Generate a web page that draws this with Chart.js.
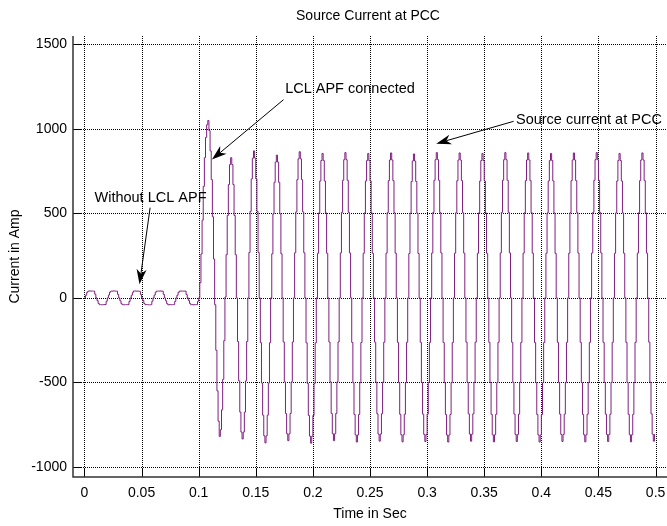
<!DOCTYPE html>
<html>
<head>
<meta charset="utf-8">
<title>Source Current at PCC</title>
<script src="https://cdn.jsdelivr.net/npm/chart.js@4.4.1/dist/chart.umd.min.js"></script>
<style>
  html, body { margin: 0; padding: 0; background: #fff; }
  #wrap { width: 667px; height: 526px; }
</style>
</head>
<body>
<div id="wrap"><canvas id="chart" width="667" height="526"></canvas></div>
<script>
const sampleStep = 0.001
const connectTime = 0.1

// 0 .. 0.099 s, without the LCL APF (one row = one 20 ms cycle)
const currentBefore = [
  0, 16, 33, 40, 41, 41, 40, 40, 40, 22, 0, -16, -33, -40, -40, -41, -40, -40, -39, -20,
  0, 17, 34, 40, 40, 41, 41, 40, 40, 21, 0, -17, -34, -40, -41, -40, -40, -40, -40, -21,
  0, 16, 33, 41, 41, 40, 40, 40, 39, 20, 0, -16, -33, -40, -40, -40, -41, -41, -40, -20,
  0, 17, 34, 40, 40, 40, 41, 40, 40, 21, 0, -17, -34, -41, -40, -40, -40, -40, -39, -21,
  0, 16, 33, 40, 41, 40, 40, 40, 40, 20, 0, -16, -33, -40, -40, -41, -40, -40, -40, -20,
]

// 0.1 .. 0.499 s, after the LCL APF is connected
const currentAfter = [
  0, 90, 260, 460, 660, 830, 950, 1025, 1050, 990, 870, 700, 480, 230, -40, -310, -550, -730, -820, -780,
  -663, -482, -253, 5, 256, 488, 671, 789, 830, 789, 671, 488, 256, 0, -258, -491, -676, -794, -835, -794,
  -676, -491, -258, 0, 269, 512, 704, 827, 870, 827, 704, 512, 269, 0, -265, -504, -694, -816, -858, -816,
  -694, -504, -265, 0, 261, 497, 684, 804, 845, 804, 684, 497, 261, 0, -261, -497, -684, -804, -845, -804,
  -684, -497, -261, 0, 267, 509, 700, 823, 865, 823, 700, 509, 267, 0, -266, -506, -696, -818, -860, -818,
  -696, -506, -266, 0, 264, 503, 692, 813, 855, 813, 692, 503, 264, 0, -261, -497, -684, -804, -845, -804,
  -684, -497, -261, 0, 266, 506, 696, 818, 860, 818, 696, 506, 266, 0, -264, -502, -690, -811, -853, -811,
  -690, -502, -264, 0, 264, 503, 692, 813, 855, 813, 692, 503, 264, 0, -262, -499, -686, -806, -848, -806,
  -686, -499, -262, 0, 265, 504, 694, 816, 858, 816, 694, 504, 265, 0, -263, -501, -689, -810, -852, -810,
  -689, -501, -263, 0, 263, 501, 689, 810, 852, 810, 689, 501, 263, 0, -263, -500, -688, -808, -850, -808,
  -688, -500, -263, 0, 266, 506, 696, 818, 860, 818, 696, 506, 266, 0, -264, -502, -690, -811, -853, -811,
  -690, -502, -264, 0, 265, 504, 694, 816, 858, 816, 694, 504, 265, 0, -262, -499, -686, -806, -848, -806,
  -686, -499, -262, 0, 264, 503, 692, 813, 855, 813, 692, 503, 264, 0, -263, -501, -689, -810, -852, -810,
  -689, -501, -263, 0, 266, 506, 696, 818, 860, 818, 696, 506, 266, 0, -263, -500, -688, -808, -850, -808,
  -688, -500, -263, 0, 265, 504, 694, 816, 858, 816, 694, 504, 265, 0, -264, -502, -690, -811, -853, -811,
  -690, -502, -264, 0, 264, 503, 692, 813, 855, 813, 692, 503, 264, 0, -263, -500, -688, -808, -850, -808,
  -688, -500, -263, 0, 265, 504, 694, 816, 858, 816, 694, 504, 265, 0, -263, -501, -689, -810, -852, -810,
  -689, -501, -263, 0, 266, 506, 696, 818, 860, 818, 696, 506, 266, 0, -263, -500, -688, -808, -850, -808,
  -688, -500, -263, 0, 264, 503, 692, 813, 855, 813, 692, 503, 264, 0, -263, -501, -689, -810, -852, -810,
  -689, -501, -263, 0, 265, 504, 694, 816, 858, 816, 694, 504, 265, 0, -262, -499, -686, -806, -848, -806,
]

// Axis ticks
const xTickValues = [0, 0.05, 0.1, 0.15, 0.2, 0.25, 0.3, 0.35, 0.4, 0.45, 0.5]
const xTickLabels = ["0", "0.05", "0.1", "0.15", "0.2", "0.25", "0.3", "0.35", "0.4", "0.45", "0.5"]
const yTickValues = [-1000, -500, 0, 500, 1000, 1500]
const yTickLabels = ["-1000", "-500", "0", "500", "1000", "1500"]

// Text callouts (data units): label anchor, then arrow start -> arrow tip
const calloutTexts = ["Without LCL APF", "LCL APF connected", "Source current at PCC"]
const calloutLabelAt = [[0.0088, 590], [0.1757, 1238], [0.3778, 1052]]
const calloutArrowFrom = [[0.0575, 534], [0.1743, 1173], [0.3757, 1045]]
const calloutArrowTo = [[0.0482, 81], [0.1116, 819], [0.308, 913]]

const FONT = "'Liberation Sans', Arial, sans-serif"
const lineColor = "#7f1f80"

// Build the point list on the sampling grid
const points = currentBefore
  .map((v, i) => ({ x: i * sampleStep, y: v }))
  .concat(currentAfter.map((v, i) => ({ x: connectTime + i * sampleStep, y: v })))

function drawArrow(ctx, x1, y1, x2, y2) {
  const ang = Math.atan2(y2 - y1, x2 - x1)
  const c = Math.cos(ang)
  const s = Math.sin(ang)
  const len = 15
  const half = 5
  ctx.beginPath()
  ctx.moveTo(x1, y1)
  ctx.lineTo(x2 - c * len * 0.7, y2 - s * len * 0.7)
  ctx.stroke()
  ctx.beginPath()
  ctx.moveTo(x2, y2)
  ctx.lineTo(x2 - len * c + half * s, y2 - len * s - half * c)
  ctx.lineTo(x2 - 0.7 * len * c, y2 - 0.7 * len * s)
  ctx.lineTo(x2 - len * c - half * s, y2 - len * s + half * c)
  ctx.closePath()
  ctx.fill()
}

// MATLAB-like frame: dotted grid, inward ticks, axis lines, title, callouts
const matlabFrame = {
  id: "matlabFrame",
  beforeDatasetsDraw(chart) {
    const { ctx, chartArea: a, scales: { x, y } } = chart
    ctx.save()
    ctx.strokeStyle = "#000"
    ctx.lineWidth = 1
    ctx.setLineDash([1, 1])
    ctx.beginPath()
    xTickValues.forEach((v) => {
      const px = Math.round(x.getPixelForValue(v)) + 0.5
      ctx.moveTo(px, a.top)
      ctx.lineTo(px, a.bottom)
    })
    yTickValues.forEach((v) => {
      const py = Math.round(y.getPixelForValue(v)) + 0.5
      ctx.moveTo(a.left, py)
      ctx.lineTo(a.right, py)
    })
    ctx.stroke()
    ctx.restore()
  },
  afterDatasetsDraw(chart) {
    const { ctx, chartArea: a, scales: { x, y } } = chart
    ctx.save()

    // inward tick marks
    ctx.strokeStyle = "#000"
    ctx.lineWidth = 1
    ctx.beginPath()
    xTickValues.forEach((v) => {
      const px = Math.round(x.getPixelForValue(v)) + 0.5
      ctx.moveTo(px, a.bottom)
      ctx.lineTo(px, a.bottom - 8)
    })
    yTickValues.forEach((v) => {
      const py = Math.round(y.getPixelForValue(v)) + 0.5
      ctx.moveTo(a.left, py)
      ctx.lineTo(a.left + 8, py)
    })
    ctx.stroke()

    // axis lines
    ctx.strokeStyle = "#333"
    ctx.lineWidth = 1.5
    ctx.beginPath()
    ctx.moveTo(a.left, a.top)
    ctx.lineTo(a.left, a.bottom)
    ctx.lineTo(a.right, a.bottom)
    ctx.stroke()

    // title
    ctx.fillStyle = "#000"
    ctx.font = "14px " + FONT
    ctx.textAlign = "center"
    ctx.textBaseline = "middle"
    ctx.fillText("Source Current at PCC", (a.left + a.right) / 2 - 2, a.top - 20)

    // callouts
    ctx.textAlign = "left"
    ctx.font = "14.5px " + FONT
    ctx.strokeStyle = "#000"
    ctx.lineWidth = 1
    calloutTexts.forEach((t, i) => {
      const [lx, ly] = calloutLabelAt[i]
      ctx.fillText(t, x.getPixelForValue(lx), y.getPixelForValue(ly))
      const [fx, fy] = calloutArrowFrom[i]
      const [tx, ty] = calloutArrowTo[i]
      drawArrow(ctx, x.getPixelForValue(fx), y.getPixelForValue(fy), x.getPixelForValue(tx), y.getPixelForValue(ty))
    })
    ctx.restore()
  },
}

const tickFont = { family: FONT, size: 14 }

new Chart(document.getElementById("chart"), {
  type: "line",
  data: {
    datasets: [
      {
        label: "Source current",
        data: points,
        borderColor: lineColor,
        borderWidth: 1,
        pointRadius: 0,
        stepped: true,
        fill: false,
      },
    ],
  },
  options: {
    responsive: false,
    animation: false,
    events: [],
    layout: { padding: { top: 36, left: 0, right: 0, bottom: 0 } },
    plugins: {
      legend: { display: false },
      tooltip: { enabled: false },
      title: { display: false },
    },
    scales: {
      x: {
        type: "linear",
        min: -0.01,
        max: 0.51,
        afterBuildTicks: (s) => {
          s.ticks = xTickValues.map((v) => ({ value: v }))
        },
        afterFit: (s) => {
          s.height = 49
          s.paddingLeft = 0
          s.paddingRight = 0
        },
        grid: { display: false, drawTicks: false },
        border: { display: false },
        ticks: {
          autoSkip: false,
          maxRotation: 0,
          padding: 8,
          color: "#000",
          font: tickFont,
          callback: (v, i) => xTickLabels[i],
        },
        title: { display: true, text: "Time in Sec", color: "#000", font: tickFont, padding: { top: 0, bottom: 3 } },
      },
      y: {
        type: "linear",
        min: -1060,
        max: 1550,
        afterBuildTicks: (s) => {
          s.ticks = yTickValues.map((v) => ({ value: v }))
        },
        afterFit: (s) => {
          s.width = 73
          s.paddingTop = 0
          s.paddingBottom = 0
        },
        grid: { display: false, drawTicks: false },
        border: { display: false },
        ticks: {
          autoSkip: false,
          padding: 6,
          color: "#000",
          font: tickFont,
          callback: (v, i) => yTickLabels[i],
        },
        title: { display: true, text: "Current in Amp", color: "#000", font: tickFont, padding: { top: 7, bottom: 0 } },
      },
    },
  },
  plugins: [matlabFrame],
})
</script>
</body>
</html>
